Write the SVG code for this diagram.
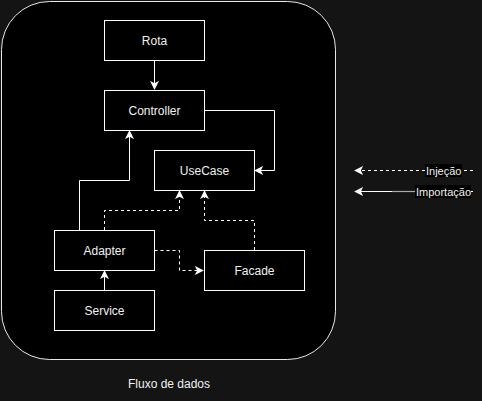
<svg xmlns="http://www.w3.org/2000/svg" width="482" height="401" viewBox="0 0 482 401">
<style>
.node rect{fill:#000;stroke:#fff;stroke-width:1}
.node text,.lbl{font-family:"Liberation Sans",Arial,sans-serif;font-size:12px;fill:#f0f0f0;text-anchor:middle;dominant-baseline:central}
.e{fill:none;stroke:#fff;stroke-width:1}
.d{stroke-dasharray:3 3}
.leg{font-family:"Liberation Sans",Arial,sans-serif;font-size:11px;fill:#f0f0f0;dominant-baseline:central}
</style>
<defs>
<marker id="a" viewBox="0 0 10 10" refX="9" refY="5" markerWidth="9" markerHeight="9" markerUnits="userSpaceOnUse" orient="auto">
<path d="M0,0 L10,5 L0,10 L2.5,5 Z" fill="#fff"/>
</marker>
</defs>
<rect x="0" y="0" width="482" height="401" fill="#141414"/>
<g id="container">
<rect x="1.5" y="1.5" width="334" height="358" rx="48" ry="48" fill="#000" stroke="#e8e8e8"/>
<text class="lbl" x="169" y="384">Fluxo de dados</text>
</g>
<g id="connectors">
<path class="e" d="M154.5,60.5 V89" marker-end="url(#a)"/>
<path class="e" d="M204.5,110.5 H274.5 V170.5 H255" marker-end="url(#a)"/>
<path class="e" d="M79.5,230 V180.5 H129.5 V131" marker-end="url(#a)"/>
<path class="e" d="M104.5,290 V271" marker-end="url(#a)"/>
<path class="e d" d="M104.5,230 V210.5 H179.5 V191" marker-end="url(#a)"/>
<path class="e d" d="M254.5,250 V220.5 H204.5 V191" marker-end="url(#a)"/>
<path class="e d" d="M154.5,250.5 H179.5 V270.5 H203" marker-end="url(#a)"/>
</g>
<g id="rota" class="node"><rect x="104.5" y="20.5" width="100" height="40"/><text x="154.5" y="40.5">Rota</text></g>
<g id="controller" class="node"><rect x="104.5" y="90.5" width="100" height="40"/><text x="154.5" y="110.5">Controller</text></g>
<g id="usecase" class="node"><rect x="154.5" y="150.5" width="100" height="40"/><text x="204.5" y="170.5">UseCase</text></g>
<g id="adapter" class="node"><rect x="54.5" y="230.5" width="100" height="40"/><text x="104.5" y="250.5">Adapter</text></g>
<g id="facade" class="node"><rect x="204.5" y="250.5" width="100" height="40"/><text x="254.5" y="270.5">Facade</text></g>
<g id="service" class="node"><rect x="54.5" y="290.5" width="100" height="40"/><text x="104.5" y="310.5">Service</text></g>
<g id="legend">
<path class="e d" d="M473,170.5 H355" marker-end="url(#a)"/>
<rect x="425" y="164" width="37" height="13" fill="#000"/>
<text class="leg" x="426" y="170.5">Injeção</text>
<path class="e" d="M473,191.5 H355" marker-end="url(#a)"/>
<path d="M392,191.5 H415" stroke="#aaa" stroke-width="1.2" fill="none"/>
<rect x="415" y="185" width="56" height="13" fill="#000"/>
<text class="leg" x="416" y="191.5">Importação</text>
</g>
</svg>
